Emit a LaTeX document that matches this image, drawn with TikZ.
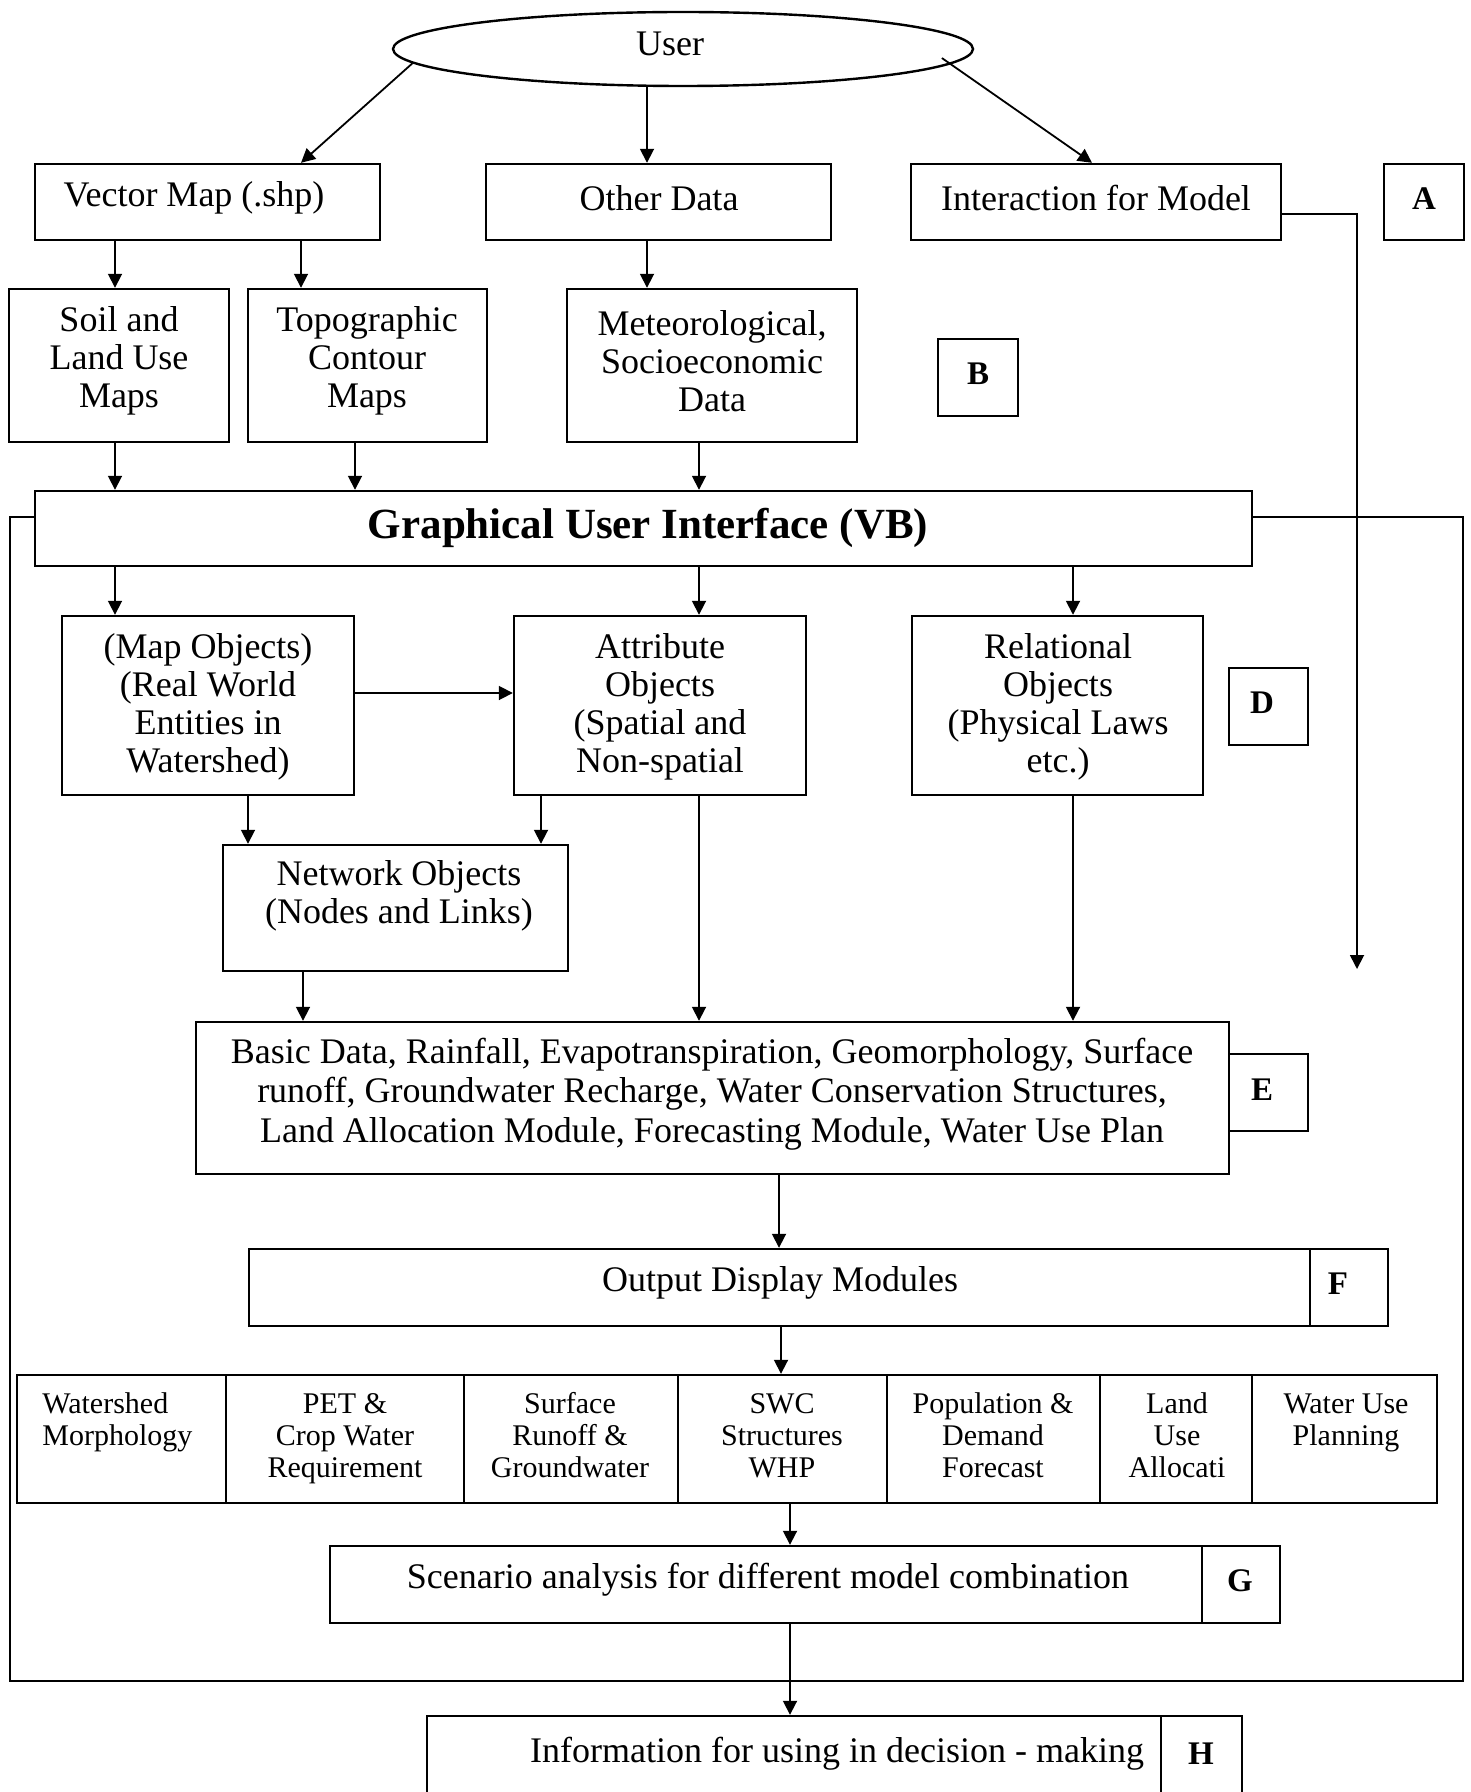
\documentclass[tikz,border=0pt]{standalone}
\usepackage{fontspec}
\setmainfont{Liberation Serif}
\usetikzlibrary{arrows.meta,calc,fit,shapes.geometric}

\newcommand\boxfont{\fontsize{18pt}{19pt}\selectfont}
\newcommand\modfont{\fontsize{18pt}{19.6pt}\selectfont}
\newcommand\guifont{\fontsize{21.5pt}{24pt}\selectfont\bfseries}
\newcommand\tagfont{\fontsize{16.5pt}{18pt}\selectfont\bfseries}
\newcommand\cellfont{\fontsize{15pt}{16pt}\selectfont}

\begin{document}
\begin{tikzpicture}[x=0.5pt,y=-0.5pt,
  frm/.style={draw,line width=1.2pt,inner sep=0pt},
  txt/.style={inner sep=0pt,align=center,font=\boxfont},
  tag/.style={inner sep=0pt,font=\tagfont},
  cell/.style={inner sep=0pt,align=center,font=\cellfont,anchor=north},
  arr/.style={line width=0.9pt,-{Triangle[length=7pt,width=7pt]}}]

\useasboundingbox (0,0) rectangle (1471,1792);
\clip (0,0) rectangle (1471,1792);

% column positions of the vertical connectors
\foreach \c in {115,248,301,303,355,541,647,699,779,781,790,1073,1092}
  \coordinate (c\c) at (\c,0);
\coordinate (r693) at (0,693);
\coordinate (drop) at (1357,969);

% outer frame of the model system
\node[frm, fit={(10,517) (1463,1681)}] (frame) {};

% user
\node[draw, ellipse, line width=1.2pt, minimum width=290pt, minimum height=37pt,
      inner sep=0pt, font=\boxfont] (user) at (683,49) {};
\node[txt] (user-t) at (670,44) {User};

% level A
\node[frm, fit={(35,164) (380,240)}] (vec) {};
\node[txt] (vec-t) at (194,198) {Vector Map (.shp)};
\node[frm, fit={(486,164) (831,240)}] (oth) {};
\node[txt] (oth-t) at (659,198) {Other Data};
\node[frm, fit={(911,164) (1281,240)}] (inter) {};
\node[txt] (inter-t) at (1096,198) {Interaction for Model};
\node[frm, fit={(1384,164) (1464,240)}] (la) {};
\node[tag] (la-t) at (1424,199) {A};

% level B
\node[frm, fit={(9,289) (229,442)}] (soil) {};
\node[txt] (soil-t) at (119,361) {Soil and\\Land Use\\Maps};
\node[frm, fit={(248,289) (487,442)}] (topo) {};
\node[txt] (topo-t) at (367,361) {Topographic\\Contour\\Maps};
\node[frm, fit={(567,289) (857,442)}] (met) {};
\node[txt] (met-t) at (712,361) {Meteorological,\\Socioeconomic\\Data};
\node[frm, fit={(938,339) (1018,416)}] (lb) {};
\node[tag] (lb-t) at (978,374) {B};

% graphical user interface
\node[frm, fill=white, fit={(35,491) (1252,566)}] (gui) {};
\node[inner sep=0pt, font=\guifont] (gui-t) at (648,528) {Graphical User Interface (VB)};

% level D
\node[frm, fit={(62,616) (354,795)}] (mapo) {};
\node[txt] (mapo-t) at (208,707) {(Map Objects)\\(Real World\\Entities in\\Watershed)};
\node[frm, fit={(514,616) (806,795)}] (attr) {};
\node[txt] (attr-t) at (660,707) {Attribute\\Objects\\(Spatial and\\Non-spatial};
\node[frm, fit={(912,616) (1203,795)}] (rel) {};
\node[txt] (rel-t) at (1058,707) {Relational\\Objects\\(Physical Laws\\etc.)};
\node[frm, fit={(1229,668) (1308,745)}] (ld) {};
\node[tag] (ld-t) at (1262,703) {D};

\node[frm, fit={(223,845) (568,971)}] (net) {};
\node[txt] (net-t) at (399,896) {Network Objects\\(Nodes and Links)};

% level E
\node[frm, fit={(196,1022) (1229,1174)}] (basic) {};
\node[txt, font=\modfont] (basic-t) at (712,1094) {Basic Data, Rainfall, Evapotranspiration, Geomorphology, Surface\\
  runoff, Groundwater Recharge, Water Conservation Structures,\\
  Land Allocation Module, Forecasting Module, Water Use Plan};
\node[frm, fit={(1229,1054) (1308,1131)}] (le) {};
\node[tag] (le-t) at (1262,1090) {E};

% level F
\node[frm, fit={(249,1249) (1310,1326)}] (outp) {};
\node[txt] (outp-t) at (780,1283) {Output Display Modules};
\node[frm, fit={(1310,1249) (1388,1326)}] (lf) {};
\node[tag] (lf-t) at (1338,1284) {F};

% output modules row
\node[frm, fit={(17,1375) (226,1503)}] (ws) {};
\node[cell, anchor=north west, align=left] (ws-t) at (42,1391) {\strut Watershed\\Morphology};
\node[frm, fit={(226,1375) (464,1503)}] (pet) {};
\node[cell] (pet-t) at (345,1391) {\strut PET \&\\Crop Water\\Requirement};
\node[frm, fit={(464,1375) (678,1503)}] (sro) {};
\node[cell] (sro-t) at (570,1391) {\strut Surface\\Runoff \&\\Groundwater};
\node[frm, fit={(678,1375) (887,1503)}] (swc) {};
\node[cell] (swc-t) at (782,1391) {\strut SWC\\Structures\\WHP};
\node[frm, fit={(887,1375) (1100,1503)}] (pop) {};
\node[cell] (pop-t) at (993,1391) {\strut Population \&\\Demand\\Forecast};
\node[frm, fit={(1100,1375) (1252,1503)}] (lua) {};
\node[cell] (lua-t) at (1177,1391) {\strut Land\\Use\\Allocati};
\node[frm, fit={(1252,1375) (1437,1503)}] (wup) {};
\node[cell] (wup-t) at (1346,1391) {\strut Water Use\\Planning};

% level G
\node[frm, fit={(330,1546) (1202,1623)}] (scen) {};
\node[txt] (scen-t) at (768,1580) {Scenario analysis for different model combination};
\node[frm, fit={(1202,1546) (1280,1623)}] (lg) {};
\node[tag] (lg-t) at (1240,1581) {G};

% level H
\node[frm, fit={(427,1716) (1161,1820)}] (info) {};
\node[txt] (info-t) at (837,1754) {Information for using in decision - making};
\node[frm, fit={(1161,1716) (1242,1820)}] (lh) {};
\node[tag] (lh-t) at (1201,1754) {H};

% connectors
\draw[arr] (user.183) -- (vec.north -| c301);
\draw[arr] (user.south -| c647) -- (oth.north -| c647);
\draw[arr] ($(user.center)!0.92!(user.358)$) -- (inter.north -| c1092);

\draw[arr] (vec.south -| c115) -- (soil.north -| c115);
\draw[arr] (vec.south -| c301) -- (topo.north -| c301);
\draw[arr] (oth.south -| c647) -- (met.north -| c647);

\draw[arr] (soil.south -| c115) -- (gui.north -| c115);
\draw[arr] (topo.south -| c355) -- (gui.north -| c355);
\draw[arr] (met.south -| c699) -- (gui.north -| c699);

\draw[line width=0.9pt] ([yshift=-6pt]inter.east) -| ([yshift=14pt]drop);
\draw[arr] ([yshift=14pt]drop) -- (drop);

\draw[arr] (gui.south -| c115) -- (mapo.north -| c115);
\draw[arr] (gui.south -| c699) -- (attr.north -| c699);
\draw[arr] (gui.south -| c1073) -- (rel.north -| c1073);

\draw[arr] (mapo.east |- r693) -- (attr.west |- r693);
\draw[arr] (mapo.south -| c248) -- (net.north -| c248);
\draw[arr] (attr.south -| c541) -- (net.north -| c541);

\draw[arr] (net.south -| c303) -- (basic.north -| c303);
\draw[arr] (attr.south -| c699) -- (basic.north -| c699);
\draw[arr] (rel.south -| c1073) -- (basic.north -| c1073);

\draw[arr] (basic.south -| c779) -- (outp.north -| c779);
\draw[arr] (outp.south -| c781) -- (swc.north -| c781);
\draw[arr] (swc.south -| c790) -- (scen.north -| c790);
\draw[arr] (scen.south -| c790) -- (info.north -| c790);
\end{tikzpicture}
\end{document}
